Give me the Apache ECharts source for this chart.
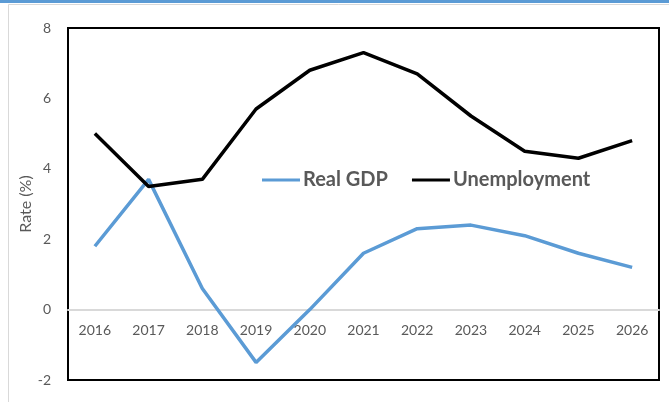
<!DOCTYPE html>
<html>
<head>
<meta charset="utf-8">
<script src="https://cdn.jsdelivr.net/npm/echarts@6/dist/echarts.min.js"></script>
<style>
  html, body { margin: 0; padding: 0; background: #fff; }
  #chart { width: 669px; height: 402px; }
</style>
</head>
<body>
<div id="chart"></div>
<script>
// Years on the category axis
const years = ['2016', '2017', '2018', '2019', '2020', '2021', '2022', '2023', '2024', '2025', '2026'];
// Annual rates, percent
const realGdp = [1.8, 3.7, 0.6, -1.5, 0.0, 1.6, 2.3, 2.4, 2.1, 1.6, 1.2];
const unemployment = [5.0, 3.5, 3.7, 5.7, 6.8, 7.3, 6.7, 5.5, 4.5, 4.3, 4.8];
// Value axis range
const yMin = -2, yMax = 8, yStep = 2;

const font = 'Lato, "Open Sans", sans-serif';
const gridTop = 28, gridBottom = 22, chartH = 402;
const plotH = chartH - gridTop - gridBottom;
// shift the category axis up so it sits on the zero line
const zeroOffset = -plotH * (0 - yMin) / (yMax - yMin);

const chart = echarts.init(document.getElementById('chart'));
chart.setOption({
  animation: false,
  backgroundColor: '#fff',
  textStyle: { fontFamily: font },
  graphic: [
    { type: 'rect', shape: { x: 0, y: 0, width: 669, height: 3 }, style: { fill: '#5b9bd5' }, silent: true },
    { type: 'line', shape: { x1: 8.5, y1: 4.5, x2: 669, y2: 4.5 }, style: { stroke: '#d9d9d9', lineWidth: 1 }, silent: true },
    { type: 'line', shape: { x1: 8.5, y1: 4.5, x2: 8.5, y2: 402 }, style: { stroke: '#d9d9d9', lineWidth: 1 }, silent: true }
  ],
  grid: {
    left: 68, right: 10, top: gridTop, bottom: gridBottom,
    outerBoundsMode: 'none',
    containLabel: false,
    show: true, borderColor: '#000', borderWidth: 2, backgroundColor: 'transparent'
  },
  legend: {
    left: 262, top: 170, padding: 0,
    itemWidth: 38, itemHeight: 3, itemGap: 24,
    icon: 'rect',
    textStyle: { color: '#595959', fontSize: 20, fontWeight: 'bold', fontFamily: font, padding: [0, 0, 0, -2] },
    data: ['Real GDP', 'Unemployment']
  },
  xAxis: {
    type: 'category',
    data: years,
    boundaryGap: true,
    offset: zeroOffset,
    axisLine: { onZero: false, lineStyle: { color: '#d9d9d9', width: 2 } },
    axisTick: { show: false },
    axisLabel: { color: '#595959', fontSize: 14, margin: 14, fontFamily: font }
  },
  yAxis: {
    type: 'value',
    min: yMin, max: yMax, interval: yStep,
    name: 'Rate (%)',
    nameLocation: 'middle',
    nameGap: 34,
    nameMoveOverlap: false,
    nameTextStyle: { color: '#595959', fontSize: 16, fontFamily: font },
    axisLine: { show: false },
    axisTick: { show: false },
    splitLine: { show: false },
    axisLabel: { color: '#595959', fontSize: 14, margin: 17, fontFamily: font }
  },
  series: [
    {
      name: 'Real GDP', type: 'line', data: realGdp,
      symbol: 'none', color: '#5b9bd5',
      lineStyle: { width: 3.5, color: '#5b9bd5' }
    },
    {
      name: 'Unemployment', type: 'line', data: unemployment,
      symbol: 'none', color: '#000',
      lineStyle: { width: 3.5, color: '#000' }
    }
  ]
});
</script>
</body>
</html>
